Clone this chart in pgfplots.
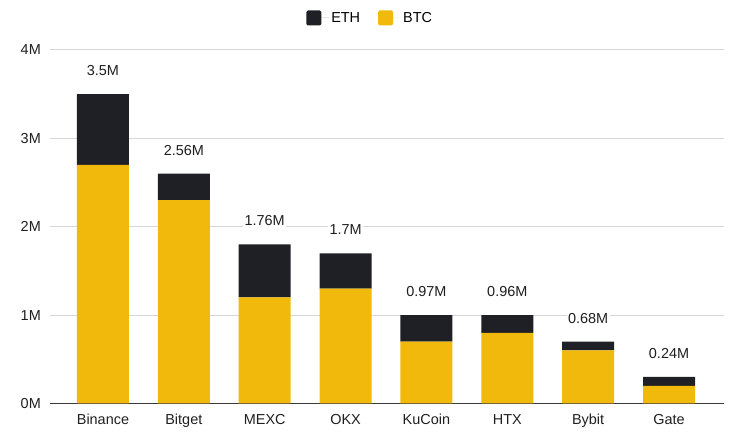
\documentclass[border=0pt]{standalone}
\usepackage{pgfplots}
\pgfplotsset{compat=1.18}
\usepackage{fontspec}
\setmainfont{Liberation Sans}
\definecolor{btc}{HTML}{F0B90B}
\definecolor{eth}{HTML}{1E2026}
\definecolor{gridc}{HTML}{D6D6D6}
\definecolor{basec}{HTML}{3A3A3A}
\tikzset{vlab/.style={fill=white, inner sep=1.5bp, yshift=23.5bp, font=\fontsize{14.5}{17}\selectfont, text=black!88}}
\begin{document}
\begin{tikzpicture}[x=1bp,y=1bp]
\useasboundingbox (0,0) rectangle (737,437);
\begin{axis}[
  at={(50bp,33.5bp)}, anchor=south west,
  scale only axis, width=674bp, height=353.5bp,
  ybar stacked, bar width=52bp,
  xmin=-0.655, xmax=7.68, ymin=0, ymax=4,
  xtick={0,...,7},
  xticklabels={Binance,Bitget,MEXC,OKX,KuCoin,HTX,Bybit,Gate},
  ytick={0,1,2,3,4}, yticklabels={0M,1M,2M,3M,4M},
  ymajorgrids, grid style={draw=gridc, line width=1bp},
  axis line style={draw=none},
  major tick length=0pt,
  tick label style={font=\fontsize{14.5}{17}\selectfont, text=black!88},
  xticklabel style={anchor=north, inner sep=0pt, yshift=-10.5bp},
  yticklabel style={anchor=east, inner sep=0pt, xshift=-9bp},
  reverse legend,
  legend style={at={(0.475,1.0905)}, anchor=center, draw=none,
    legend columns=2, font=\fontsize{14.5}{17}\selectfont,
    /tikz/every even column/.append style={column sep=16bp},
    nodes={inner sep=2bp}},
  legend image code/.code={\fill[#1, rounded corners=1.5bp] (0bp,-7.5bp) rectangle (15bp,7.5bp); \path (0bp,0bp) -- (23bp,0bp);},
  clip=false,
]
\addplot[fill=btc, draw=none] coordinates {(0,2.7) (1,2.3) (2,1.2) (3,1.3) (4,0.7) (5,0.8) (6,0.6) (7,0.2)};
\addlegendentry{BTC}
\addplot[fill=eth, draw=none] coordinates {(0,0.8) (1,0.3) (2,0.6) (3,0.4) (4,0.3) (5,0.2) (6,0.1) (7,0.1)};
\addlegendentry{ETH}
\draw[basec, line width=1.2bp] (axis cs:-0.655,0) -- (axis cs:7.68,0);
\node[vlab] at (axis cs:0,3.5) {3.5M};
\node[vlab] at (axis cs:1,2.6) {2.56M};
\node[vlab] at (axis cs:2,1.8) {1.76M};
\node[vlab] at (axis cs:3,1.7) {1.7M};
\node[vlab] at (axis cs:4,1.0) {0.97M};
\node[vlab] at (axis cs:5,1.0) {0.96M};
\node[vlab] at (axis cs:6,0.7) {0.68M};
\node[vlab] at (axis cs:7,0.3) {0.24M};
\end{axis}
\end{tikzpicture}
\end{document}
